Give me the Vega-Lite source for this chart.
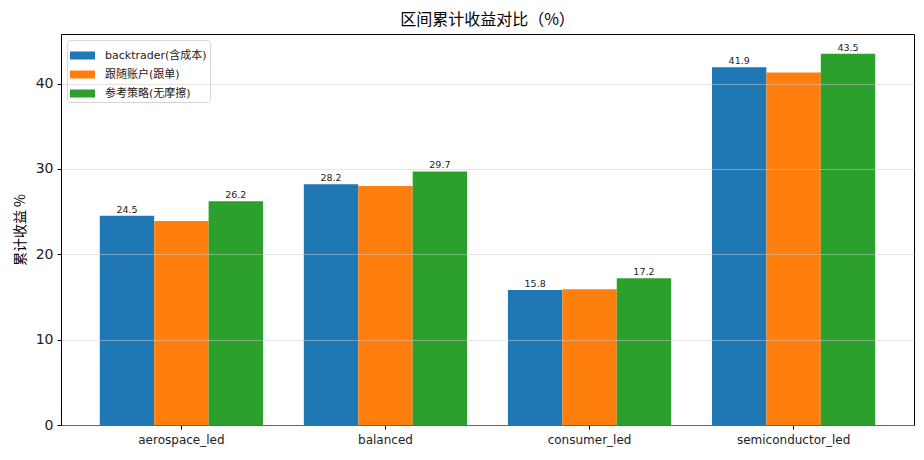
{
  "$schema": "https://vega.github.io/schema/vega-lite/v6.json",
  "width": 853,
  "height": 391,
  "autosize": {"type": "none"},
  "padding": {"left": 61, "top": 34, "right": 10, "bottom": 35},
  "title": {
    "text": "区间累计收益对比（%）",
    "fontSize": 16,
    "fontWeight": "normal",
    "font": "Noto Sans CJK SC",
    "color": "#000000",
    "offset": 6
  },
  "config": {
    "font": "DejaVu Sans, Noto Sans CJK SC",
    "view": {"stroke": "#000000", "strokeWidth": 1},
    "axis": {
      "domainColor": "#000000",
      "tickColor": "#000000",
      "labelColor": "#222222",
      "titleColor": "#000000",
      "tickSize": 4,
      "labelFont": "DejaVu Sans, Noto Sans CJK SC",
      "titleFont": "Noto Sans CJK SC"
    },
    "legend": {"labelFont": "DejaVu Sans, Noto Sans CJK SC"}
  },
  "data": {
    "values": [
      {"category": "aerospace_led", "series": "backtrader(含成本)", "value": 24.5},
      {"category": "aerospace_led", "series": "跟随账户(跟单)", "value": 23.9},
      {"category": "aerospace_led", "series": "参考策略(无摩擦)", "value": 26.2},
      {"category": "balanced", "series": "backtrader(含成本)", "value": 28.2},
      {"category": "balanced", "series": "跟随账户(跟单)", "value": 28.0},
      {"category": "balanced", "series": "参考策略(无摩擦)", "value": 29.7},
      {"category": "consumer_led", "series": "backtrader(含成本)", "value": 15.8},
      {"category": "consumer_led", "series": "跟随账户(跟单)", "value": 15.9},
      {"category": "consumer_led", "series": "参考策略(无摩擦)", "value": 17.2},
      {"category": "semiconductor_led", "series": "backtrader(含成本)", "value": 41.9},
      {"category": "semiconductor_led", "series": "跟随账户(跟单)", "value": 41.3},
      {"category": "semiconductor_led", "series": "参考策略(无摩擦)", "value": 43.5}
    ]
  },
  "encoding": {
    "x": {
      "field": "category",
      "type": "nominal",
      "sort": null,
      "title": null,
      "scale": {"paddingInner": 0.2, "paddingOuter": 0.19},
      "axis": {"labelAngle": 0, "labelFontSize": 12, "labelPadding": 5, "grid": false}
    },
    "xOffset": {
      "field": "series",
      "type": "nominal",
      "sort": ["backtrader(含成本)", "跟随账户(跟单)", "参考策略(无摩擦)"],
      "scale": {"paddingInner": 0, "paddingOuter": 0}
    },
    "y": {
      "field": "value",
      "type": "quantitative",
      "title": "累计收益 %",
      "scale": {"domain": [0, 45.8], "nice": false},
      "axis": {
        "values": [0, 10, 20, 30, 40],
        "labelFontSize": 14,
        "labelPadding": 4,
        "titleFontSize": 14,
        "titleFontWeight": "normal",
        "titlePadding": 8,
        "gridColor": "#cccccc",
        "gridOpacity": 0.5,
        "zindex": 1
      }
    }
  },
  "layer": [
    {
      "mark": {"type": "bar"},
      "encoding": {
        "color": {
          "field": "series",
          "type": "nominal",
          "sort": ["backtrader(含成本)", "跟随账户(跟单)", "参考策略(无摩擦)"],
          "scale": {
            "domain": ["backtrader(含成本)", "跟随账户(跟单)", "参考策略(无摩擦)"],
            "range": ["#1f77b4", "#ff7f0e", "#2ca02c"]
          },
          "legend": {
            "title": null,
            "orient": "none",
            "legendX": 6,
            "legendY": 6,
            "symbolType": "M-1,-0.32H1V0.32H-1Z",
            "symbolSize": 625,
            "symbolStrokeWidth": 0,
            "symbolOpacity": 1,
            "labelFontSize": 11,
            "labelColor": "#222222",
            "rowPadding": 1,
            "padding": 3,
            "fillColor": "#ffffff",
            "strokeColor": "#d6d6d6",
            "cornerRadius": 3,
            "labelOffset": 10
          }
        }
      }
    },
    {
      "transform": [{"filter": "datum.series !== '跟随账户(跟单)'"}],
      "mark": {"type": "text", "baseline": "bottom", "dy": -1, "fontSize": 9.5, "color": "#222222"},
      "encoding": {
        "text": {"field": "value", "type": "quantitative", "format": ".1f"}
      }
    }
  ]
}
